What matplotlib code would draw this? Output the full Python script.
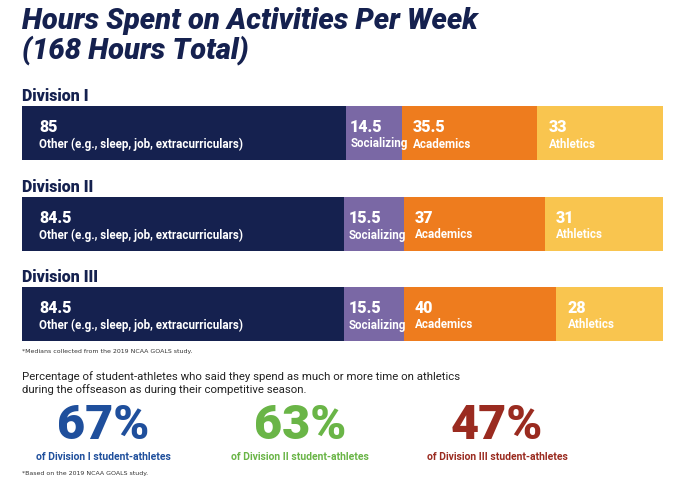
import matplotlib
matplotlib.use("Agg")
import matplotlib.pyplot as plt

divisions = ["Division I", "Division II", "Division III"]
categories = ["Other (e.g., sleep, job, extracurriculars)", "Socializing", "Academics", "Athletics"]
other = [85, 84.5, 84.5]
social = [14.5, 15.5, 15.5]
academics = [35.5, 37, 40]
athletics = [33, 31, 28]
pct_values = [67, 63, 47]
pct_labels = ["of Division I student-athletes", "of Division II student-athletes", "of Division III student-athletes"]

colors = ["#15214f", "#7a68a5", "#ee7c1e", "#f9c54f"]
pct_colors = ["#1f4f9c", "#6ab547", "#9a2b20"]

W, H = 680, 488
fig = plt.figure(figsize=(6.8, 4.88), dpi=100)
fig.patch.set_facecolor("white")
ax = fig.add_axes([22/W, 0, 641/W, 1])
ax.set_xlim(0, 168)
ax.set_ylim(H, 0)
ax.axis("off")

ycent = [133, 224, 314]
bh = 54
series = [other, social, academics, athletics]
for i, d in enumerate(divisions):
    left = 0
    for j, s in enumerate(series):
        v = s[i]
        ax.barh(ycent[i], v, left=left, height=bh, color=colors[j], edgecolor="none")
        off = 1.0 if j == 1 else 4.5 if j == 0 else 3.0
        ax.text(left + off, ycent[i] - 6, f"{v:g}", color="white", fontsize=11.5, fontweight="black",
                ha="left", va="center", family="Roboto")
        ax.text(left + off, ycent[i] + 11, categories[j], color="white", fontsize=8.4, fontweight="bold",
                ha="left", va="center", family="Roboto")
        left += v
    ax.text(0, ycent[i] - bh/2 - 2, d, color="#15214f", fontsize=11.5, fontweight="black",
            ha="left", va="bottom", family="Roboto")

fig.text(22/W, 1 - 7/H, "Hours Spent on Activities Per Week\n(168 Hours Total)", color="#15214f",
         fontsize=21, fontweight="black", style="italic", ha="left", va="top", family="Roboto",
         linespacing=1.0)
fig.text(22/W, 1 - 352/H, "*Medians collected from the 2019 NCAA GOALS study.", fontsize=4.5,
         color="#333333", ha="left", va="center")
fig.text(22/W, 1 - 383/H, "Percentage of student-athletes who said they spend as much or more time on athletics\nduring the offseason as during their competitive season.",
         fontsize=8.2, color="#222222", ha="left", va="center", family="Roboto", linespacing=1.3)
xs = [103, 300, 497]
for x, v, l, c in zip(xs, pct_values, pct_labels, pct_colors):
    fig.text(x/W, 1 - 426/H, f"{v}%", fontsize=35, fontweight="black", color=c,
             ha="center", va="center", family="Roboto")
    fig.text(x/W, 1 - 457/H, l, fontsize=7.5, fontweight="bold", color=c,
             ha="center", va="center", family="Roboto")
fig.text(22/W, 1 - 473/H, "*Based on the 2019 NCAA GOALS study.", fontsize=4.5,
         color="#333333", ha="left", va="center")

fig.savefig("out.png", dpi=100, facecolor="white")
